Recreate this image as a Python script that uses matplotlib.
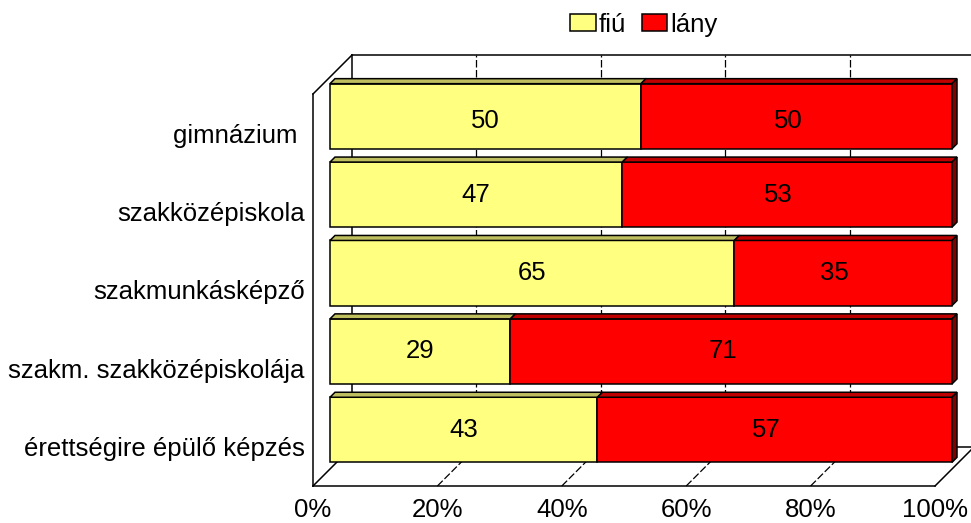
import matplotlib
matplotlib.use('Agg')
import matplotlib.pyplot as plt
from matplotlib.patches import Polygon

plt.rcParams['font.family'] = ['Liberation Sans', 'DejaVu Sans']

# data (top to bottom, as in the chart)
categories = ['gimnázium ', 'szakközépiskola', 'szakmunkásképző',
              'szakm. szakközépiskolája', 'érettségire épülő képzés']
fiu = [50, 47, 65, 29, 43]
lany = [50, 53, 35, 71, 57]
series_names = ['fiú', 'lány']
xticks = [0, 20, 40, 60, 80, 100]
xticklabels = ['0%', '20%', '40%', '60%', '80%', '100%']

yellow = '#FFFF80'
yellow_top = '#BFBF60'
red = '#FF0000'
red_top = '#C00000'
red_side = '#800000'
fs = 18.5

W, H = 971, 523
fig = plt.figure(figsize=(W / 100, H / 100), dpi=100)
# axes = front plane of the 3d box (pixels 313..935 x 94..486)
ax = fig.add_axes([313 / W, (H - 486) / H, 622 / W, 392 / H])
ax.set_xlim(0, 100)
ax.set_ylim(-0.5, 4.5)
ax.set_frame_on(False)

ux = 100 / 622.0   # data units per pixel, x
uy = 5 / 392.0     # data units per pixel, y

def off(px):
    return px * ux, px * uy

ypos = list(range(len(categories) - 1, -1, -1))

# ---- walls and floor
dx, dy = off(39)
lw = 1.1
kw = dict(color='black', lw=lw, clip_on=False, zorder=1)
# back wall
ax.plot([dx, 100 + dx], [4.5 + dy, 4.5 + dy], **kw)
ax.plot([dx, dx], [-0.5 + dy, 4.5 + dy], **kw)
ax.plot([dx, 100 + dx], [-0.5 + dy, -0.5 + dy], **kw)
ax.plot([100 + dx, 100 + dx], [-0.5 + dy, 4.5 + dy], **kw)
# left wall
ax.plot([0, 0], [-0.5, 4.5], **kw)
ax.plot([0, dx], [4.5, 4.5 + dy], **kw)
ax.plot([0, dx], [-0.5, -0.5 + dy], **kw)
# floor
ax.plot([0, 100], [-0.5, -0.5], **kw)
ax.plot([100, 100 + dx], [-0.5, -0.5 + dy], **kw)
# gridlines on back wall and floor
for t in xticks[1:-1]:
    ax.plot([t + dx, t + dx], [-0.5 + dy, 4.5 + dy], color='black', lw=0.9,
            ls=(0, (6, 2)), clip_on=False, zorder=1)
    ax.plot([t, t + dx], [-0.5, -0.5 + dy], color='black', lw=0.9,
            ls=(0, (6, 2)), clip_on=False, zorder=1)

# ---- bars
bx, by = off(17)
tx, ty = off(5)
bh = 0.83
yb = [y + by for y in ypos]
lefts = [bx] * len(fiu)
lefts2 = [bx + f for f in fiu]

c1 = ax.barh(yb, fiu, left=lefts, height=bh, color=yellow, edgecolor='black',
             lw=1.1, zorder=3, clip_on=False, label=series_names[0])
c2 = ax.barh(yb, lany, left=lefts2, height=bh, color=red, edgecolor='black',
             lw=1.1, zorder=3, clip_on=False, label=series_names[1])

# top faces
for y, l, w, top_col in [(y, l, w, yellow_top) for y, l, w in zip(yb, lefts, fiu)] + \
        [(y, l, w, red_top) for y, l, w in zip(yb, lefts2, lany)]:
    top = y + bh / 2
    ax.add_patch(Polygon([(l, top), (l + w, top), (l + w + tx, top + ty), (l + tx, top + ty)],
                         closed=True, facecolor=top_col, edgecolor='black', lw=1.1,
                         zorder=3, clip_on=False))

# right side faces
for y, l, w in zip(yb, lefts2, lany):
    r = l + w
    bot, top = y - bh / 2, y + bh / 2
    ax.add_patch(Polygon([(r, bot), (r, top), (r + tx, top + ty), (r + tx, bot + ty)],
                         closed=True, facecolor=red_side, edgecolor='black', lw=1.1,
                         zorder=3, clip_on=False))

ax.bar_label(c1, labels=[str(v) for v in fiu], label_type='center', fontsize=fs, zorder=4)
ax.bar_label(c2, labels=[str(v) for v in lany], label_type='center', fontsize=fs, zorder=4)

# ---- axes labels
ax.set_xticks(xticks, xticklabels)
ax.set_yticks(ypos, categories)
ax.tick_params(axis='x', length=0, pad=8.5, labelsize=fs)
ax.tick_params(axis='y', length=0, pad=6, labelsize=fs)

fig.legend(handles=[c1, c2], loc='center', bbox_to_anchor=(644 / W, 1 - 25 / H),
           ncol=2, frameon=False, fontsize=fs, handlelength=1.0, handleheight=0.64,
           handletextpad=0.12, columnspacing=0.6, borderpad=0)

fig.savefig('out.png', dpi=100)
